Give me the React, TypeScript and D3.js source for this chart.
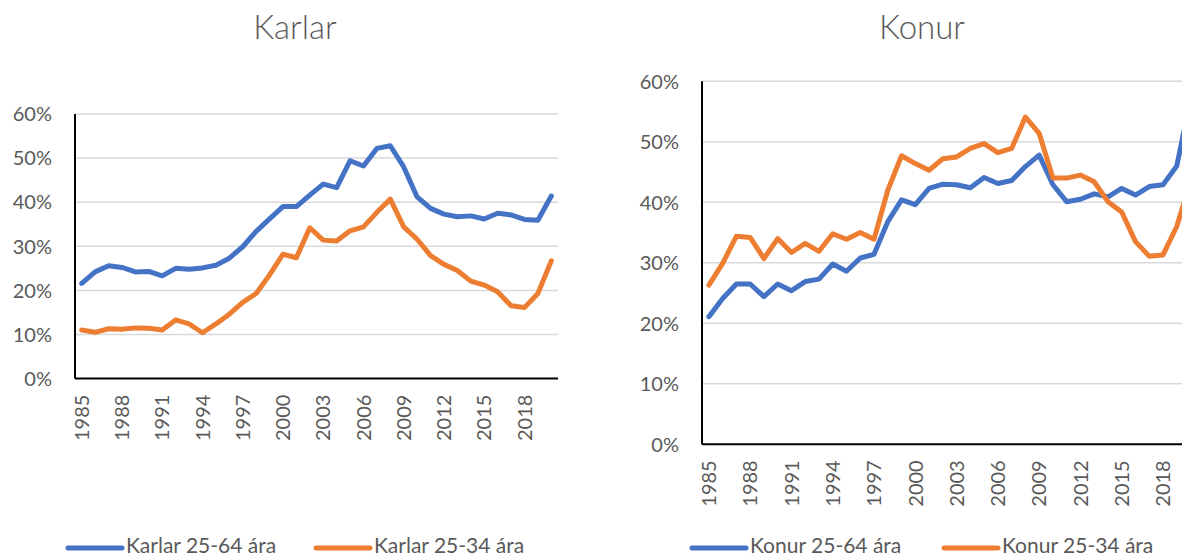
import React from "react";
import * as d3 from "d3";

const years: number[] = [
  1985, 1986, 1987, 1988, 1989, 1990, 1991, 1992, 1993, 1994, 1995, 1996,
  1997, 1998, 1999, 2000, 2001, 2002, 2003, 2004, 2005, 2006, 2007, 2008,
  2009, 2010, 2011, 2012, 2013, 2014, 2015, 2016, 2017, 2018, 2019, 2020,
];
const tickYears: number[] = [1985, 1988, 1991, 1994, 1997, 2000, 2003, 2006, 2009, 2012, 2015, 2018];
const yTicks: number[] = [0, 0.1, 0.2, 0.3, 0.4, 0.5, 0.6];

const karlar2564: number[] = [
  21.6, 24.2, 25.6, 25.2, 24.2, 24.3, 23.3, 25.0, 24.8, 25.1, 25.7, 27.3,
  29.9, 33.4, 36.2, 39.0, 39.0, 41.6, 44.1, 43.3, 49.4, 48.2, 52.2, 52.8,
  48.0, 41.2, 38.6, 37.3, 36.7, 36.9, 36.2, 37.5, 37.1, 36.1, 35.9, 41.4,
];
const karlar2534: number[] = [
  11.0, 10.5, 11.3, 11.2, 11.5, 11.4, 11.0, 13.3, 12.4, 10.4, 12.4, 14.6,
  17.3, 19.3, 23.5, 28.2, 27.4, 34.2, 31.4, 31.2, 33.5, 34.4, 37.7, 40.7,
  34.4, 31.6, 27.9, 25.9, 24.5, 22.1, 21.2, 19.7, 16.5, 16.1, 19.3, 26.7,
];
const konur2564: number[] = [
  21.1, 24.1, 26.5, 26.5, 24.4, 26.5, 25.4, 26.9, 27.3, 29.8, 28.6, 30.8,
  31.4, 36.8, 40.4, 39.6, 42.3, 43.0, 42.9, 42.4, 44.1, 43.1, 43.6, 45.9,
  47.8, 42.9, 40.1, 40.5, 41.4, 40.9, 42.3, 41.2, 42.6, 42.9, 46.0, 57.0,
];
const konur2534: number[] = [
  26.3, 29.9, 34.4, 34.2, 30.7, 34.0, 31.7, 33.2, 31.9, 34.8, 33.9, 35.0,
  33.9, 42.0, 47.7, 46.4, 45.3, 47.2, 47.5, 48.9, 49.7, 48.2, 48.9, 54.1,
  51.4, 44.0, 44.0, 44.5, 43.4, 40.1, 38.4, 33.5, 31.1, 31.3, 36.0, 43.5,
];

const BLUE = "#4472C4";
const ORANGE = "#ED7D31";
const TEXT = "#595959";
const GRID = "#D9D9D9";
const FONT = "Lato, 'Open Sans', sans-serif";

type PanelProps = {
  title: string;
  titleX: number;
  x0: number;
  x1: number;
  yTop: number;
  yBottom: number;
  series: { name: string; values: number[]; color: string }[];
  legendX: number[];
};

function Panel({ title, titleX, x0, x1, yTop, yBottom, series, legendX }: PanelProps) {
  const x = d3.scaleBand<number>().domain(years).range([x0, x1]).padding(0);
  const y = d3.scaleLinear().domain([0, 0.6]).range([yBottom, yTop]);
  const cx = (yr: number) => (x(yr) as number) + x.bandwidth() / 2;
  const line = d3
    .line<number>()
    .x((_, i) => cx(years[i]))
    .y((v) => y(v / 100));
  return (
    <g>
      <text x={titleX} y={39} textAnchor="middle" fontFamily={FONT} fontSize={33} fontWeight={300} fill={TEXT}>
        {title}
      </text>
      {yTicks.map((t) => (
        <g key={t}>
          {t > 0 && <line x1={x0} x2={x1} y1={y(t)} y2={y(t)} stroke={GRID} strokeWidth={1.5} />}
          <text x={x0 - 23} y={y(t)} dy="0.36em" textAnchor="end" fontFamily={FONT} fontSize={20} fill={TEXT}>
            {d3.format(".0%")(t)}
          </text>
        </g>
      ))}
      <line x1={x0} x2={x0} y1={y(0.6)} y2={y(0)} stroke="#000" strokeWidth={2} />
      <line x1={x0} x2={x1} y1={y(0)} y2={y(0)} stroke="#000" strokeWidth={2} />
      {tickYears.map((yr) => (
        <text
          key={yr}
          transform={`translate(${cx(yr)},${y(0) + 16}) rotate(-90)`}
          dy="0.36em"
          textAnchor="end"
          fontFamily={FONT}
          fontSize={20}
          fill={TEXT}
        >
          {yr}
        </text>
      ))}
      {series.map((s) => (
        <path
          key={s.name}
          d={line(s.values) || ""}
          fill="none"
          stroke={s.color}
          strokeWidth={5}
          strokeLinejoin="round"
          strokeLinecap="round"
        />
      ))}
      {series.map((s, i) => (
        <g key={"lg" + s.name}>
          <line x1={legendX[i]} x2={legendX[i] + 54} y1={548} y2={548} stroke={s.color} strokeWidth={5} strokeLinecap="round" />
          <text x={legendX[i] + 58} y={553} fontFamily={FONT} fontSize={21} fill={TEXT}>
            {s.name}
          </text>
        </g>
      ))}
    </g>
  );
}

export default function App() {
  return (
    <svg width={1182} height={556} style={{ position: "absolute", left: 0, top: 0, background: "#fff" }}>
      <rect width={1182} height={556} fill="#fff" />
      <Panel
        title="Karlar"
        titleX={295}
        x0={75}
        x1={558}
        yTop={114}
        yBottom={378.6}
        series={[
          { name: "Karlar 25-64 ára", values: karlar2564, color: BLUE },
          { name: "Karlar 25-34 ára", values: karlar2534, color: ORANGE },
        ]}
        legendX={[68, 316]}
      />
      <Panel
        title="Konur"
        titleX={922}
        x0={702}
        x1={1197.4}
        yTop={81.3}
        yBottom={444.3}
        series={[
          { name: "Konur 25-64 ára", values: konur2564, color: BLUE },
          { name: "Konur 25-34 ára", values: konur2534, color: ORANGE },
        ]}
        legendX={[692, 944]}
      />
    </svg>
  );
}
